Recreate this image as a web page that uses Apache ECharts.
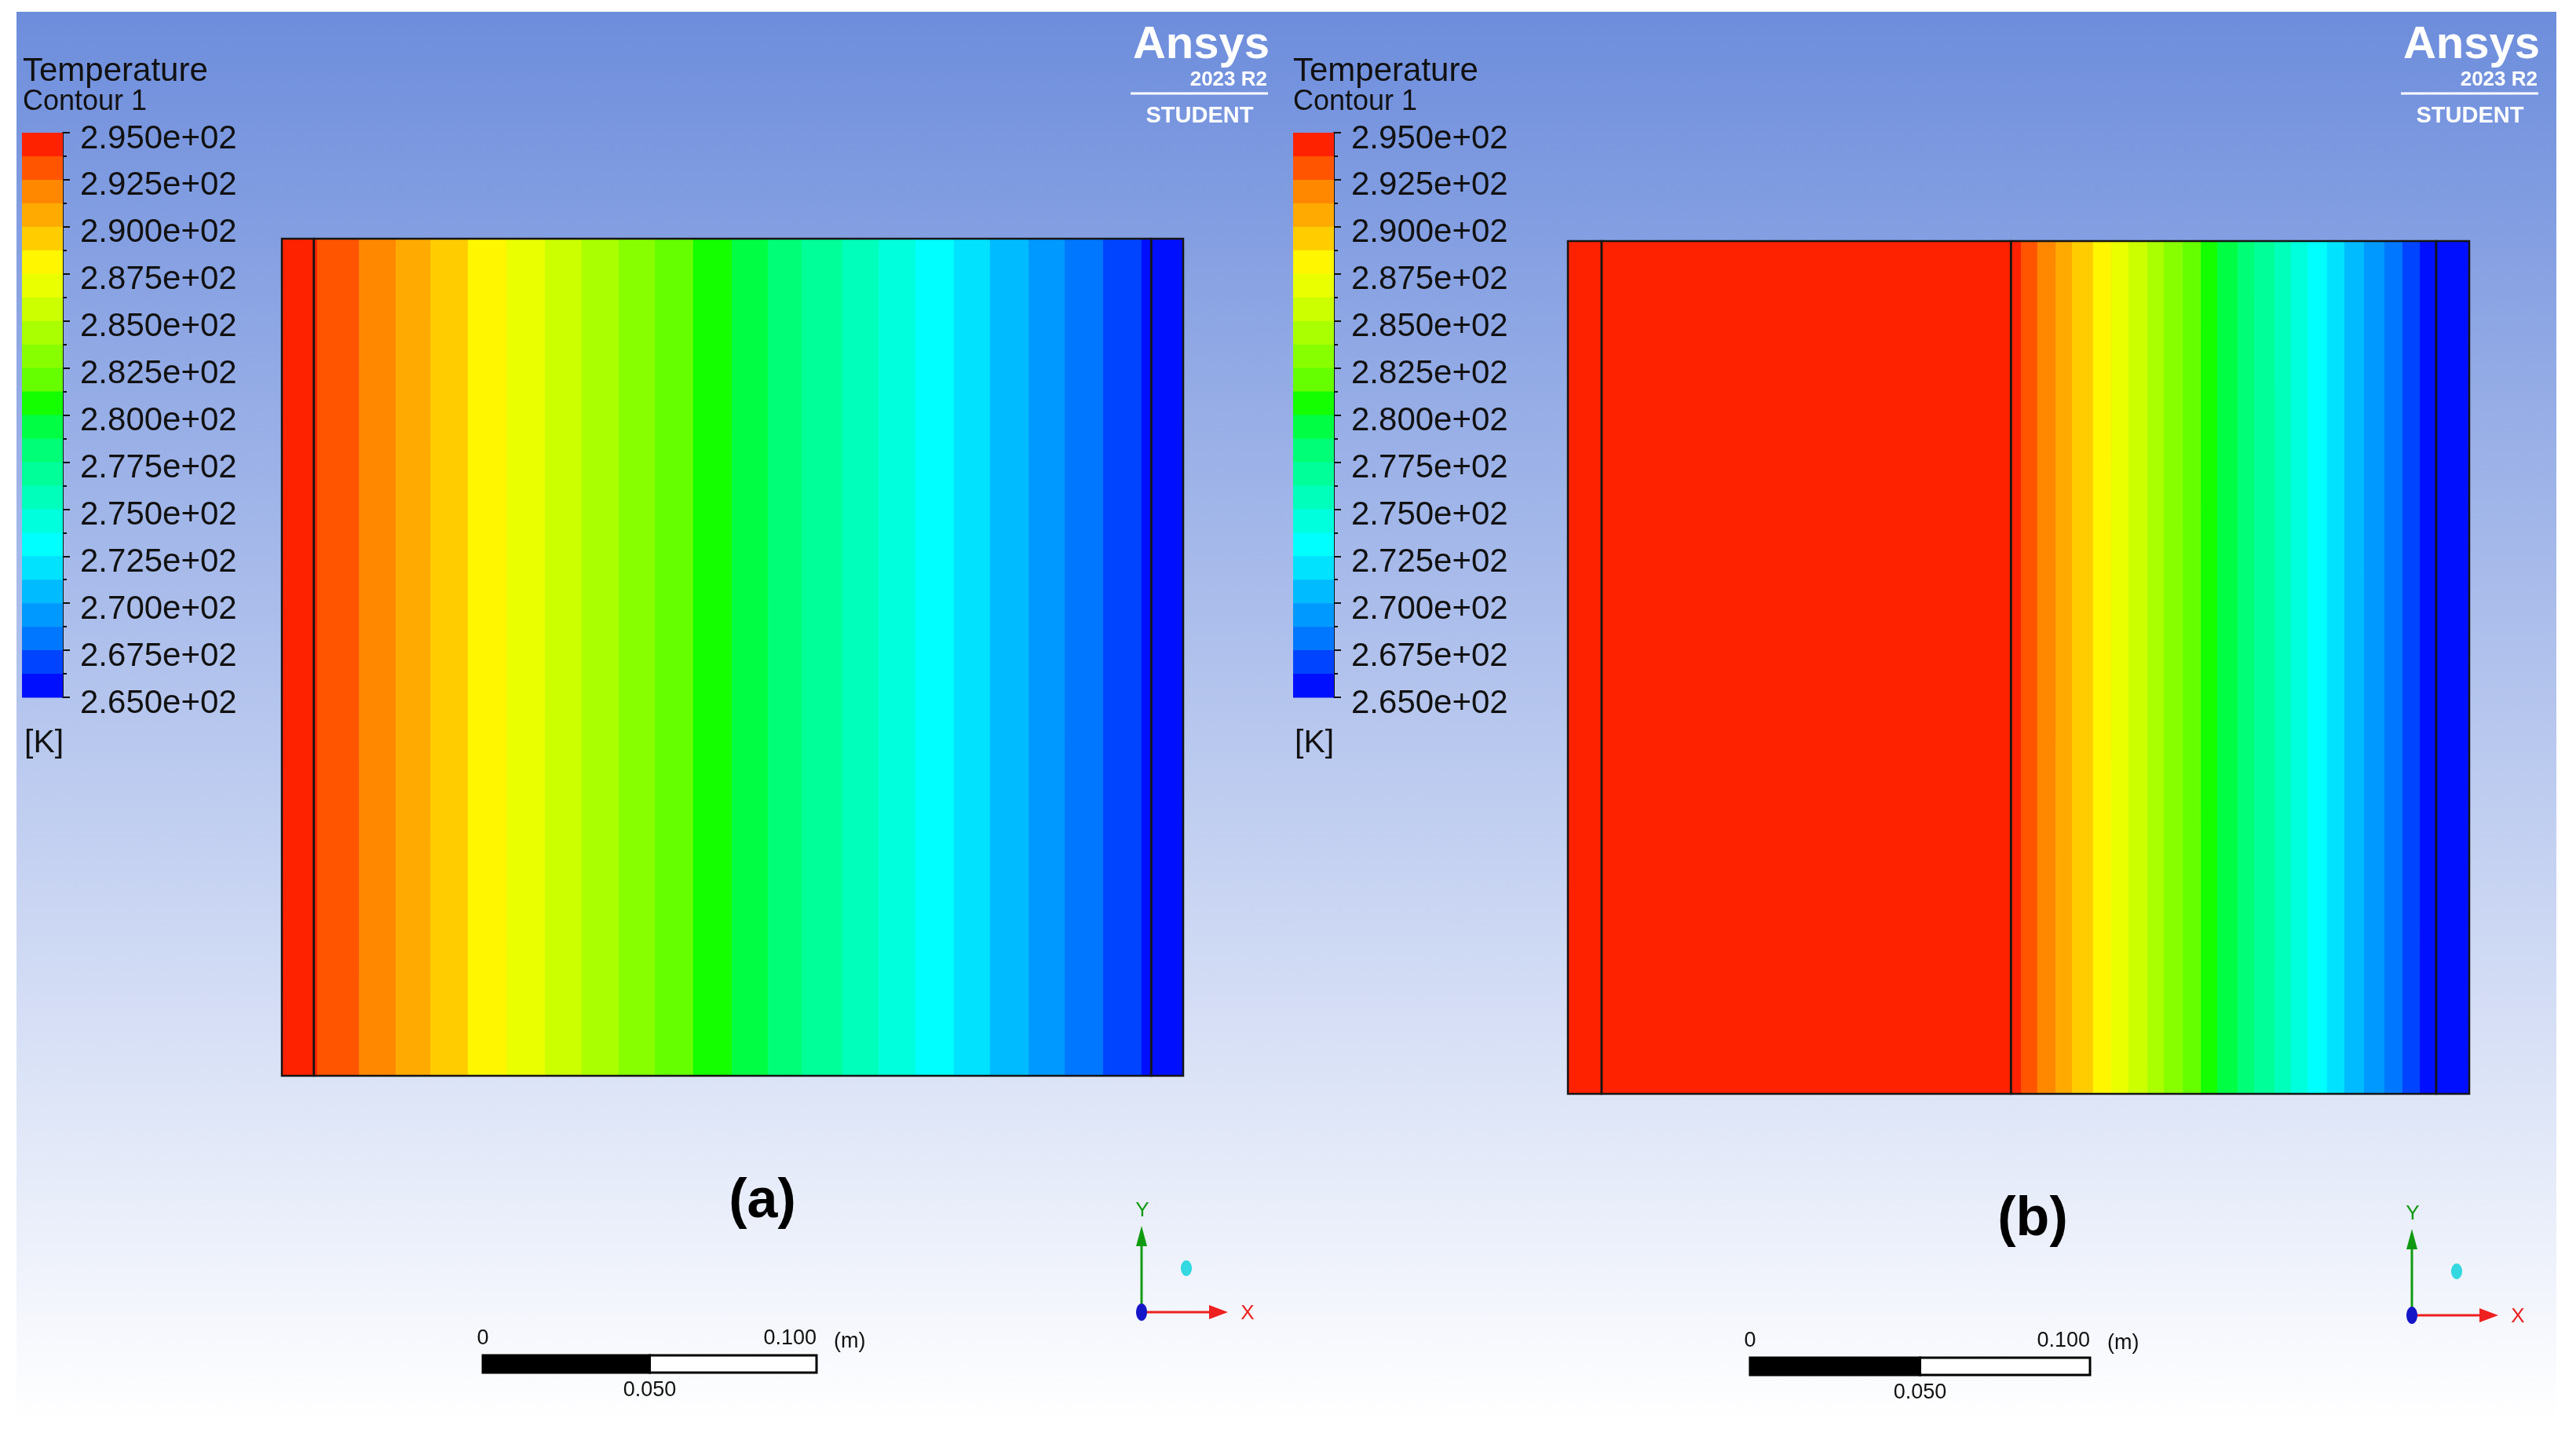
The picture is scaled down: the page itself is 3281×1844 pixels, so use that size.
<!DOCTYPE html>
<html>
<head>
<meta charset="utf-8">
<title>Temperature contours</title>
<script src="https://cdn.jsdelivr.net/npm/echarts@6/dist/echarts.min.js"></script>
<style>
  html, body { margin: 0; padding: 0; background: #ffffff; }
  #chart { width: 3281px; height: 1844px; }
</style>
</head>
<body>
<div id="chart"></div>
<script>
// legend: band boundaries [K], top first, and the banded rainbow colours
const levels = [295, 293.75, 292.5, 291.25, 290, 288.75, 287.5, 286.25, 285, 283.75, 282.5, 281.25,
  280, 278.75, 277.5, 276.25, 275, 273.75, 272.5, 271.25, 270, 268.75, 267.5, 266.25, 265];
const bandColors = ['#ff2200', '#ff5500', '#ff8800', '#ffaa00', '#ffcc00', '#fff600', '#eaff00', '#ccff00',
  '#aaff00', '#88ff00', '#66ff00', '#14ff00', '#00ff44', '#00ff77', '#00ff99', '#00ffbb',
  '#00ffdd', '#00ffff', '#00e2ff', '#00bbff', '#0099ff', '#0077ff', '#0044ff', '#0010ff'];

// case (a): band edges along x [m] and temperature of each band [K]
const edgesA = [0, 0.0106, 0.0231, 0.0341, 0.0445, 0.0557, 0.0673, 0.0788, 0.0898, 0.1009, 0.1117, 0.1232,
  0.1348, 0.1456, 0.1557, 0.1679, 0.1788, 0.1898, 0.2013, 0.2121, 0.2237, 0.2345, 0.2460, 0.2575, 0.27];
const tempsA = [294.9, 293.1, 291.9, 290.6, 289.4, 288.1, 286.9, 285.6, 284.4, 283.1, 281.9, 280.6,
  279.4, 278.1, 276.9, 275.6, 274.4, 273.1, 271.9, 270.6, 269.4, 268.1, 266.9, 265.6];
const zonesA = [0, 0.0096, 0.2604, 0.27];

// case (b)
const edgesB = [0, 0.1357, 0.1406, 0.1461, 0.1510, 0.1573, 0.1628, 0.1679, 0.1736, 0.1785, 0.1842, 0.1896,
  0.1945, 0.2006, 0.2056, 0.2117, 0.2166, 0.2216, 0.2274, 0.2326, 0.2385, 0.2446, 0.2500, 0.2552, 0.27];
const tempsB = [294.9, 293.1, 291.9, 290.6, 289.4, 288.1, 286.9, 285.6, 284.4, 283.1, 281.9, 280.6,
  279.4, 278.1, 276.9, 275.6, 274.4, 273.1, 271.9, 270.6, 269.4, 268.1, 266.9, 265.6];
const zonesB = [0, 0.0101, 0.1327, 0.2601, 0.27];

// scale bar [m]
const scaleSegments = [[0, 0.05, 1], [0.05, 0.1, 0]];

const domainW = 0.27, domainH = 0.25;
const font = 'Liberation Sans, Arial, sans-serif';

const chart = echarts.init(document.getElementById('chart'));

const pieces = bandColors.map((c, i) => ({ min: levels[i + 1], max: levels[i], color: c }));
const legendBands = bandColors.map((c, i) => [0, levels[i + 1], levels[i]]);
const bandsOf = (edges, temps) => temps.map((t, i) => [edges[i], edges[i + 1], t]);
const zonesOf = (z) => z.slice(1).map((v, i) => [z[i], v]);

function renderBand(params, api) {
  const p0 = api.coord([api.value(0), domainH]);
  const p1 = api.coord([api.value(1), 0]);
  return {
    type: 'rect',
    shape: { x: p0[0], y: p0[1], width: p1[0] - p0[0] + 0.6, height: p1[1] - p0[1] },
    style: { fill: api.visual('color') }
  };
}
function renderZone(params, api) {
  const p0 = api.coord([api.value(0), domainH]);
  const p1 = api.coord([api.value(1), 0]);
  return {
    type: 'rect', z2: 10,
    shape: { x: p0[0], y: p0[1], width: p1[0] - p0[0], height: p1[1] - p0[1] },
    style: { fill: 'none', stroke: '#151515', lineWidth: 2.5 }
  };
}
function renderLegend(params, api) {
  const p0 = api.coord([0, api.value(2)]);
  const p1 = api.coord([1, api.value(1)]);
  return {
    type: 'rect',
    shape: { x: p0[0], y: p0[1], width: p1[0] - p0[0], height: p1[1] - p0[1] + 0.6 },
    style: { fill: bandColors[params.dataIndex] }
  };
}
function renderScale(params, api) {
  const p0 = api.coord([api.value(0), 1]);
  const p1 = api.coord([api.value(1), 0]);
  const black = api.value(2) === 1;
  return {
    type: 'rect',
    shape: { x: p0[0], y: p0[1], width: p1[0] - p0[0], height: p1[1] - p0[1] },
    style: { fill: black ? '#000' : '#fff', stroke: '#000', lineWidth: 3 }
  };
}

function legendAxis(gi) {
  return {
    gridIndex: gi, type: 'value', position: 'right', min: 265, max: 295, interval: 2.5,
    axisLine: { show: true, onZero: false, lineStyle: { color: '#111', width: 2 } },
    axisTick: { show: true, length: 9, lineStyle: { color: '#111', width: 2 } },
    minorTick: { show: true, splitNumber: 2, length: 5, lineStyle: { color: '#111', width: 2 } },
    splitLine: { show: false },
    axisLabel: {
      margin: 22, fontSize: 42, fontFamily: font, color: '#111',
      verticalAlign: 'top', lineHeight: 16,
      formatter: (v) => (v / 100).toFixed(3) + 'e+02'
    }
  };
}
function scaleAxes(gi) {
  return [
    {
      gridIndex: gi, type: 'value', position: 'top', min: 0, max: 0.1, interval: 0.1,
      axisLine: { show: false }, axisTick: { show: false }, splitLine: { show: false },
      axisLabel: { margin: 8, fontSize: 27, fontFamily: font, color: '#111', alignMaxLabel: 'right',
        formatter: (v) => (v === 0 ? '0' : v.toFixed(3)) }
    },
    {
      gridIndex: gi, type: 'value', position: 'bottom', min: 0, max: 0.1, interval: 0.05,
      axisLine: { show: false }, axisTick: { show: false }, splitLine: { show: false },
      axisLabel: { margin: 9, fontSize: 27, fontFamily: font, color: '#111',
        formatter: (v) => (Math.abs(v - 0.05) < 1e-9 ? '0.050' : '') }
    }
  ];
}
const hiddenX = (gi, max) => ({ gridIndex: gi, type: 'value', min: 0, max: max, show: false });
const hiddenY = (gi, max) => ({ gridIndex: gi, type: 'value', min: 0, max: max, show: false });

// decorations repeated for the second viewport (dx shifts it)
function viewportDecor(dx, dy) {
  const txt = (text, x, y, size) => ({
    type: 'text', x: x + dx, y: y,
    style: { text: text, font: size + 'px ' + font, fill: '#111', verticalAlign: 'middle', align: 'left' }
  });
  const ox = 1454 + dx, oy = 1671 + dy;
  return [
    txt('Temperature', 29, 91, 42),
    txt('Contour 1', 29, 130, 36),
    txt('[K]', 31, 947, 41),
    { type: 'text', x: 1617 + dx, y: 58, style: { text: 'Ansys', font: 'bold 58px ' + font, fill: '#fff', align: 'right', verticalAlign: 'middle' } },
    { type: 'text', x: 1614 + dx, y: 102, style: { text: '2023 R2', font: 'bold 26px ' + font, fill: '#fff', align: 'right', verticalAlign: 'middle' } },
    { type: 'line', shape: { x1: 1440 + dx, y1: 119, x2: 1615 + dx, y2: 119 }, style: { stroke: '#fff', lineWidth: 3 } },
    { type: 'text', x: 1528 + dx, y: 148, style: { text: 'STUDENT', font: 'bold 29px ' + font, fill: '#fff', align: 'center', verticalAlign: 'middle' } },
    // axis triad
    { type: 'line', shape: { x1: ox, y1: oy, x2: ox, y2: oy - 90 }, style: { stroke: '#119a11', lineWidth: 3 } },
    { type: 'polygon', shape: { points: [[ox, oy - 110], [ox - 7, oy - 84], [ox + 7, oy - 84]] }, style: { fill: '#119a11' } },
    { type: 'line', shape: { x1: ox, y1: oy, x2: ox + 90, y2: oy }, style: { stroke: '#ee2020', lineWidth: 3 } },
    { type: 'polygon', shape: { points: [[ox + 110, oy], [ox + 86, oy - 9], [ox + 86, oy + 9]] }, style: { fill: '#ee2020' } },
    { type: 'ellipse', shape: { cx: ox, cy: oy, rx: 7, ry: 11 }, style: { fill: '#1515c8' } },
    { type: 'ellipse', shape: { cx: ox + 57, cy: oy - 56, rx: 7, ry: 10 }, style: { fill: '#33d8e0' } },
    { type: 'text', x: ox + 1, y: oy - 129, style: { text: 'Y', font: '26px ' + font, fill: '#119a11', align: 'center', verticalAlign: 'middle' } },
    { type: 'text', x: ox + 135, y: oy + 2, style: { text: 'X', font: '26px ' + font, fill: '#ee2020', align: 'center', verticalAlign: 'middle' } }
  ];
}

const option = {
  animation: false,
  backgroundColor: '#ffffff',
  graphic: [
    {
      type: 'rect', z: -10, silent: true,
      shape: { x: 21, y: 15, width: 3235, height: 1796 },
      style: { fill: new echarts.graphic.LinearGradient(0, 0, 0, 1, [
        { offset: 0, color: '#6d8ddc' }, { offset: 1, color: '#ffffff' }]) }
    },
    ...viewportDecor(0, 0),
    ...viewportDecor(1618, 4),
    { type: 'text', x: 971, y: 1531, style: { text: '(a)', font: 'bold 70px ' + font, fill: '#000', align: 'center', verticalAlign: 'middle' } },
    { type: 'text', x: 2589, y: 1554, style: { text: '(b)', font: 'bold 70px ' + font, fill: '#000', align: 'center', verticalAlign: 'middle' } },
    { type: 'text', x: 1062, y: 1709, style: { text: '(m)', font: '27px ' + font, fill: '#111', align: 'left', verticalAlign: 'middle' } },
    { type: 'text', x: 2684, y: 1711, style: { text: '(m)', font: '27px ' + font, fill: '#111', align: 'left', verticalAlign: 'middle' } }
  ],
  visualMap: {
    type: 'piecewise', show: false, dimension: 2, seriesIndex: [1, 4], pieces: pieces
  },
  grid: [
    { left: 28, top: 169, width: 52, height: 719 },
    { left: 359, top: 304, width: 1148, height: 1066 },
    { left: 1647, top: 169, width: 52, height: 719 },
    { left: 1997, top: 307, width: 1148, height: 1086 },
    { left: 615, top: 1726, width: 425, height: 22 },
    { left: 2229, top: 1729, width: 433, height: 22 }
  ],
  xAxis: [
    hiddenX(0, 1), hiddenX(1, domainW), hiddenX(2, 1), hiddenX(3, domainW),
    ...scaleAxes(4), ...scaleAxes(5)
  ],
  yAxis: [
    legendAxis(0), hiddenY(1, domainH), legendAxis(2), hiddenY(3, domainH),
    hiddenY(4, 1), hiddenY(5, 1)
  ],
  series: [
    { type: 'custom', xAxisIndex: 0, yAxisIndex: 0, silent: true, renderItem: renderLegend, data: legendBands },
    { type: 'custom', xAxisIndex: 1, yAxisIndex: 1, silent: true, renderItem: renderBand, data: bandsOf(edgesA, tempsA) },
    { type: 'custom', xAxisIndex: 1, yAxisIndex: 1, silent: true, renderItem: renderZone, data: zonesOf(zonesA) },
    { type: 'custom', xAxisIndex: 2, yAxisIndex: 2, silent: true, renderItem: renderLegend, data: legendBands },
    { type: 'custom', xAxisIndex: 3, yAxisIndex: 3, silent: true, renderItem: renderBand, data: bandsOf(edgesB, tempsB) },
    { type: 'custom', xAxisIndex: 3, yAxisIndex: 3, silent: true, renderItem: renderZone, data: zonesOf(zonesB) },
    { type: 'custom', xAxisIndex: 4, yAxisIndex: 4, silent: true, renderItem: renderScale, data: scaleSegments },
    { type: 'custom', xAxisIndex: 6, yAxisIndex: 5, silent: true, renderItem: renderScale, data: scaleSegments }
  ]
};

chart.setOption(option);
</script>
</body>
</html>
